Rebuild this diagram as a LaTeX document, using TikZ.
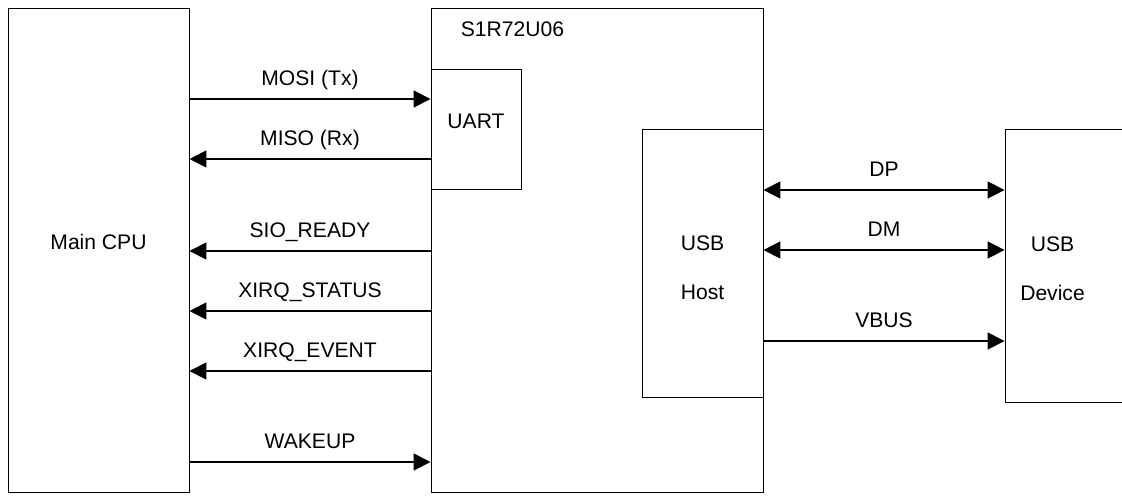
\documentclass[tikz,border=0pt]{standalone}
\usepackage{fontspec}
\setmainfont{Liberation Sans}
\usetikzlibrary{arrows.meta,fit}

\begin{document}
\begin{tikzpicture}[x=0.025cm,y=-0.025cm,
        font=\fontsize{15}{18}\selectfont,
        box/.style={draw, line width=0.7pt, inner sep=0pt},
        sig/.style={line width=1.3pt, -{Triangle[length=12pt,width=12pt]}},
        both/.style={line width=1.3pt, {Triangle[length=12pt,width=12pt]}-{Triangle[length=12pt,width=12pt]}},
        lab/.style={midway, yshift=15pt, text height=10.5pt, text depth=0pt}]

        \useasboundingbox (0,0) rectangle (1122,495);
        \clip (0,0) rectangle (1122,495);

        % blocks
        \node[box, fit={(8,8) (189,492)}] (cpu) {Main CPU};
        \node[box, fit={(431,8) (763,492)}] (chip) {};
        \node (chipname) at ([shift={(82,22)}]chip.north west) {S1R72U06};
        \node[box, fit={(431,69) (521,189)}] (uart) {UART};
        \node[box, fit={(642,129) (763,397)}] (host) {};
        \node[align=center] (hostname) at ([shift={(0,5)}]host.center) {USB\\[17pt]Host};
        \node[box, fit={(1005,129) (1140,402)}] (dev) {};
        \node[align=center] (devname) at ([shift={(48,3)}]dev.west) {USB\\[17pt]Device};

        % #######################################

        \draw[sig] (cpu.east |- 0,99) -- node[lab] {MOSI (Tx)} (uart.west |- 0,99);
        \draw[sig] (uart.west |- 0,159) -- node[lab] {MISO (Rx)} (cpu.east |- 0,159);
        \draw[sig] (chip.west |- 0,251) -- node[lab] {SIO\_READY} (cpu.east |- 0,251);
        \draw[sig] (chip.west |- 0,311) -- node[lab] {XIRQ\_STATUS} (cpu.east |- 0,311);
        \draw[sig] (chip.west |- 0,371) -- node[lab] {XIRQ\_EVENT} (cpu.east |- 0,371);
        \draw[sig] (cpu.east |- 0,462) -- node[lab] {WAKEUP} (chip.west |- 0,462);

        \draw[both] (host.east |- 0,190) -- node[lab] {DP} (dev.west |- 0,190);
        \draw[both] (host.east |- 0,250) -- node[lab] {DM} (dev.west |- 0,250);
        \draw[sig] (host.east |- 0,341) -- node[lab] {VBUS} (dev.west |- 0,341);

    \end{tikzpicture}
\end{document}
